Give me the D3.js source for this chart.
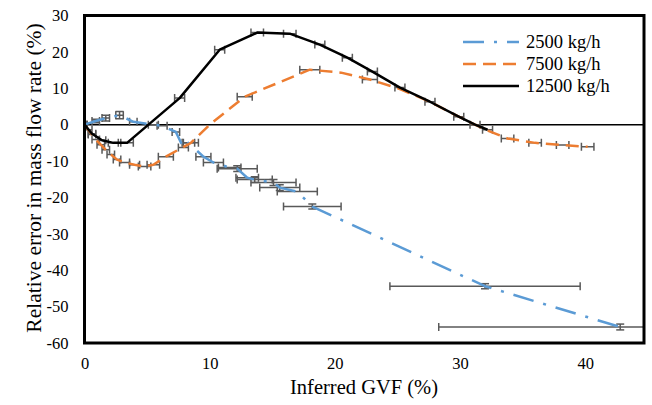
<!DOCTYPE html>
<html><head><meta charset="utf-8">
<script src="https://cdn.jsdelivr.net/npm/d3@7"></script>
<style>html,body{margin:0;padding:0;background:#fff;}svg{display:block;}</style>
</head><body>
<svg id="c" width="652" height="405" font-family="Liberation Serif"></svg>
<script>
// ---- data ----
const seriesNames = ["2500 kg/h", "7500 kg/h", "12500 kg/h"];
const xTicks = [0, 10, 20, 30, 40];
const yTicks = [30, 20, 10, 0, -10, -20, -30, -40, -50, -60];

// 2500 kg/h
const blueX    = [0, 0.9, 1.7, 2.8, 3.9, 5.5, 6.2, 7.3, 7.9, 8.3, 9.5, 10.3, 11.6, 12.2, 13.0, 13.6, 15.1, 15.6, 17.0, 18.2, 32.0, 42.8];
const blueY    = [0, 1.0, 1.8, 2.6, 0.8, 0, -0.3, -2.0, -6.3, -5.0, -8.8, -10.4, -11.8, -12.1, -14.6, -15.1, -15.9, -17.3, -18.4, -22.5, -44.4, -55.6];
const blueXerr = [0.2, 0.3, 0.3, 0.3, 0.3, 0.4, 0.4, 0.3, 0.4, 0.5, 0.6, 0.8, 0.9, 1.6, 0.9, 1.4, 1.8, 1.6, 1.6, 2.3, 7.6, 14.5];
const blueYerr = [0, 0.5, 0.8, 1.0, 0, 0, 0, 0, 0, 0, 0, 0, 0, 0.8, 0, 0.8, 0.8, 0.8, 0, 0.7, 0.7, 0.8];

// 7500 kg/h (points with error bars)
const orangeX    = [0, 0.3, 0.6, 0.9, 1.3, 1.7, 2.1, 2.6, 3.2, 4.0, 4.8, 5.5, 6.5, 8.5, 12.8, 18.0, 22.8, 33.8, 36.0, 38.2, 40.2];
const orangeY    = [0, -1.4, -2.7, -4.1, -5.5, -6.9, -8.2, -9.6, -10.4, -11.0, -11.5, -11.0, -8.8, -5.0, 7.7, 15.1, 12.4, -3.8, -5.0, -5.6, -6.1];
const orangeXerr = [0.2, 0.3, 0.3, 0.3, 0.3, 0.3, 0.3, 0.3, 0.4, 0.4, 0.5, 0.5, 0.6, 0.6, 0.6, 0.8, 0.6, 0.5, 0.5, 0.5, 0.5];
const orangeYerr = [0, 0, 0, 0, 0, 0, 0, 0, 0, 0, 0, 0, 0, 0, 0, 0, 0, 0, 0, 0, 0];

// 7500 kg/h curve
const orangeLineX = [0, 0.3, 0.6, 0.9, 1.3, 1.7, 2.1, 2.6, 3.2, 4.0, 4.8, 5.5, 6.5, 8.5, 10.0, 12.8, 18.0, 20.5, 22.8, 25.2, 27.6, 29.9, 31.2, 32.2, 33.8, 36.0, 38.2, 40.2];
const orangeLineY = [0, -1.4, -2.7, -4.1, -5.5, -6.9, -8.2, -9.6, -10.4, -11.0, -11.5, -11.0, -8.8, -5.0, 0, 7.7, 15.1, 14.3, 12.4, 9.8, 6.3, 2.2, 0, -1.6, -3.8, -5.0, -5.6, -6.1];

// 12500 kg/h
const blackX    = [0, 0.6, 1.4, 2.3, 3.4, 7.6, 10.8, 13.8, 16.4, 18.8, 21.0, 23.0, 25.2, 27.6, 29.9, 31.2, 32.2];
const blackY    = [0, -2.5, -4.3, -5.0, -5.0, 7.3, 20.6, 25.3, 25.0, 22.0, 18.4, 14.6, 10.2, 6.3, 2.2, 0, -1.4];
const blackXerr = [0.2, 0.3, 0.3, 0.4, 0.5, 0.4, 0.4, 0.5, 0.5, 0.4, 0.4, 0.4, 0.4, 0.4, 0.4, 0.4, 0.4];
const blackYerr = [0, 0, 0, 0, 0, 0, 0, 0, 0, 0, 0, 0, 0, 0, 0, 0, 0];

// ---- layout ----
const FONT = "Liberation Serif";
const svg = d3.select("#c");
const L = 84.5, R = 644, T = 15.5, B = 343;
const x = d3.scaleLinear().domain([0, 44.7]).range([L, R]);
const y = d3.scaleLinear().domain([-60, 30]).range([B, T]);

svg.append("defs").append("clipPath").attr("id", "clip")
  .append("rect").attr("x", L).attr("y", T).attr("width", R - L).attr("height", B - T);

const plot = svg.append("g").attr("clip-path", "url(#clip)");

plot.append("line").attr("x1", L).attr("x2", R).attr("y1", y(0)).attr("y2", y(0))
  .attr("stroke", "#000").attr("stroke-width", 1.5);

function mk(xs, ys, xe, ye) { return xs.map((v, i) => ({ x: v, y: ys[i], xe: xe ? xe[i] : 0, ye: ye ? ye[i] : 0 })); }
const series = [
  { name: seriesNames[0], pts: mk(blueX, blueY, blueXerr, blueYerr), line: mk(blueX, blueY), color: "#5B9BD5", dash: "21,10,3,10" },
  { name: seriesNames[1], pts: mk(orangeX, orangeY, orangeXerr, orangeYerr), line: mk(orangeLineX, orangeLineY), color: "#ED7D31", dash: "13,7" },
  { name: seriesNames[2], pts: mk(blackX, blackY, blackXerr, blackYerr), line: mk(blackX, blackY), color: "#000000", dash: null }
];

const line = d3.line().x(d => x(d.x)).y(d => y(d.y));

const eb = plot.append("g").attr("stroke", "#595959").attr("stroke-width", 1.5).attr("fill", "none");
const cap = 4;
series.forEach(s => {
  s.pts.forEach(d => {
    const cx = x(d.x), cy = y(d.y);
    if (d.xe > 0) {
      const x0 = x(d.x - d.xe), x1 = x(d.x + d.xe);
      eb.append("line").attr("x1", x0).attr("x2", x1).attr("y1", cy).attr("y2", cy);
      eb.append("line").attr("x1", x0).attr("x2", x0).attr("y1", cy - cap).attr("y2", cy + cap);
      eb.append("line").attr("x1", x1).attr("x2", x1).attr("y1", cy - cap).attr("y2", cy + cap);
    }
    if (d.ye > 0) {
      const y0 = y(d.y - d.ye), y1 = y(d.y + d.ye);
      eb.append("line").attr("x1", cx).attr("x2", cx).attr("y1", y0).attr("y2", y1);
      eb.append("line").attr("x1", cx - cap).attr("x2", cx + cap).attr("y1", y0).attr("y2", y0);
      eb.append("line").attr("x1", cx - cap).attr("x2", cx + cap).attr("y1", y1).attr("y2", y1);
    }
  });
});

series.forEach(s => {
  plot.append("path").datum(s.line).attr("d", line)
    .attr("fill", "none").attr("stroke", s.color).attr("stroke-width", 2.5)
    .attr("stroke-dasharray", s.dash).attr("stroke-linejoin", "round");
});

svg.append("rect").attr("x", L).attr("y", T).attr("width", R - L).attr("height", B - T)
  .attr("fill", "none").attr("stroke", "#000").attr("stroke-width", 3);

const fmt = d => String(d);
const yAx = svg.append("g").attr("transform", `translate(${L - 16},0)`)
  .call(d3.axisLeft(y).tickValues(yTicks).tickSize(0).tickPadding(0).tickFormat(fmt));
yAx.select(".domain").remove();
yAx.attr("font-family", FONT).attr("font-size", 16.5);
yAx.selectAll("text").attr("fill", "#000");

const xAx = svg.append("g").attr("transform", `translate(0,${B + 14})`)
  .call(d3.axisBottom(x).tickValues(xTicks).tickSize(0).tickPadding(0).tickFormat(fmt));
xAx.select(".domain").remove();
xAx.attr("font-family", FONT).attr("font-size", 16.5);
xAx.selectAll("text").attr("fill", "#000");

svg.append("text").attr("transform", `translate(36,178) rotate(-90)`)
  .attr("text-anchor", "middle").attr("dominant-baseline", "middle")
  .attr("font-family", FONT).attr("font-size", 21.5).text("Relative error in mass flow rate (%)");
svg.append("text").attr("x", 364).attr("y", 394)
  .attr("text-anchor", "middle").attr("font-family", FONT)
  .attr("font-size", 20.5).text("Inferred GVF (%)");

const lg = svg.append("g");
series.forEach((s, i) => {
  const ly = 42 + i * 22;
  lg.append("line").attr("x1", 463).attr("x2", 519).attr("y1", ly).attr("y2", ly)
    .attr("stroke", s.color).attr("stroke-width", 2.5).attr("stroke-dasharray", s.dash);
  lg.append("text").attr("x", 526).attr("y", ly).attr("dominant-baseline", "central")
    .attr("font-family", FONT).attr("font-size", 18.5).text(s.name);
});
</script>
</body></html>
